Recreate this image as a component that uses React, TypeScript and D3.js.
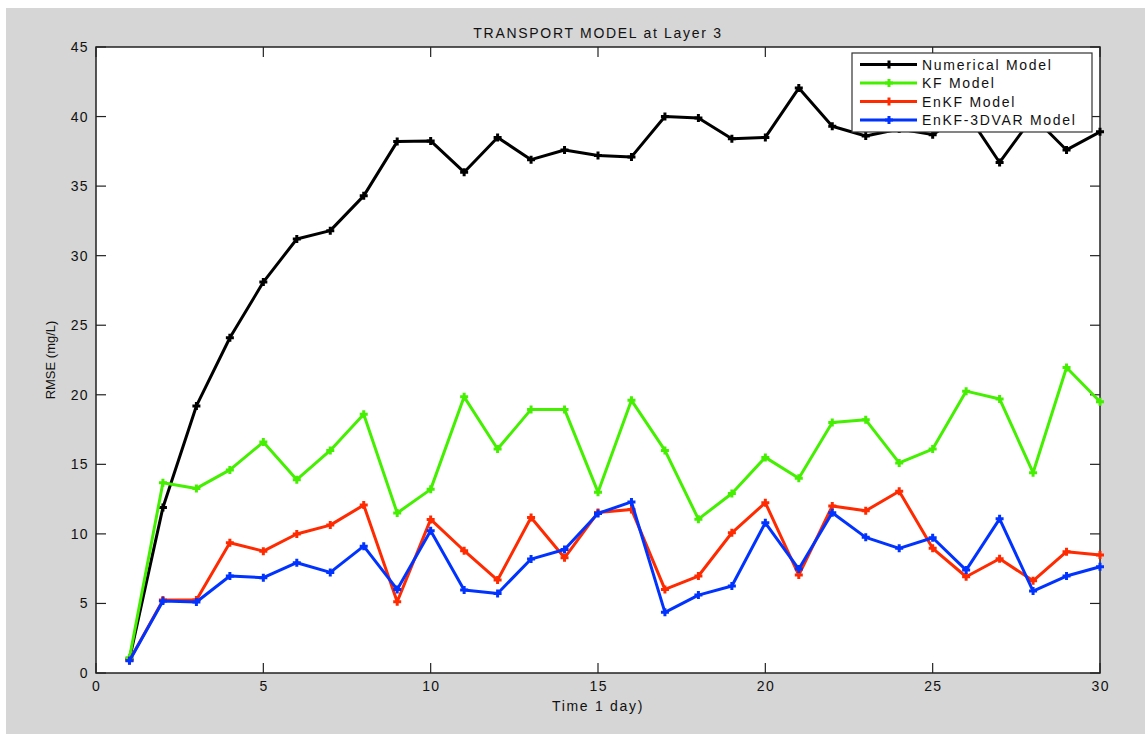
import React, { useEffect, useRef } from "react";
import * as d3 from "d3";

const days = d3.range(1, 31);
const numerical = [1.0, 11.9, 19.2, 24.1, 28.1, 31.2, 31.8, 34.3, 38.2, 38.25, 36.0, 38.5, 36.9, 37.6, 37.2, 37.1, 40.0, 39.9, 38.4, 38.5, 42.05, 39.3, 38.6, 39.1, 38.7, 40.3, 36.7, 40.0, 37.6, 38.9];
const kf = [1.1, 13.67, 13.27, 14.6, 16.6, 13.9, 16.0, 18.6, 11.5, 13.2, 19.85, 16.1, 18.95, 18.95, 13.0, 19.6, 16.0, 11.06, 12.9, 15.5, 14.0, 18.0, 18.2, 15.1, 16.1, 20.26, 19.7, 14.4, 21.96, 19.5];
const enkf = [0.9, 5.24, 5.24, 9.36, 8.76, 9.99, 10.63, 12.07, 5.12, 11.04, 8.79, 6.68, 11.18, 8.28, 11.54, 11.76, 6.01, 6.97, 10.08, 12.24, 7.04, 12.0, 11.66, 13.07, 8.96, 6.92, 8.21, 6.63, 8.72, 8.48];
const enkf3dvar = [0.88, 5.17, 5.1, 6.97, 6.85, 7.93, 7.23, 9.12, 6.01, 10.22, 5.96, 5.72, 8.19, 8.88, 11.47, 12.3, 4.36, 5.6, 6.25, 10.8, 7.47, 11.52, 9.75, 8.96, 9.72, 7.4, 11.08, 5.89, 6.97, 7.64];

const seriesNames = ["Numerical Model", "KF Model", "EnKF Model", "EnKF-3DVAR Model"];
const seriesColors = ["#000000", "#44f000", "#ff2a00", "#0033ff"];
const seriesValues = [numerical, kf, enkf, enkf3dvar];

const xTicks = [0, 5, 10, 15, 20, 25, 30];
const yTicks = [0, 5, 10, 15, 20, 25, 30, 35, 40, 45];

const title = "TRANSPORT MODEL at Layer 3";
const xLabel = "Time 1 day)";
const yLabel = "RMSE (mg/L)";

const W = 1145;
const H = 734;
const M = { left: 96, top: 47, right: 1100, bottom: 673 };
const FONT = "'Liberation Sans', Arial, sans-serif";
const LS = 1.7;

export default function App() {
  const ref = useRef<SVGSVGElement>(null);

  useEffect(() => {
    const svg = d3.select(ref.current);
    svg.selectAll("*").remove();

    svg.append("rect").attr("x", 0).attr("y", 0).attr("width", W).attr("height", H).attr("fill", "#ffffff");
    svg.append("rect").attr("x", 6).attr("y", 8).attr("width", W - 6).attr("height", H - 8).attr("fill", "#d6d6d6");

    const x = d3.scaleLinear().domain([0, 30]).range([M.left, M.right]);
    const y = d3.scaleLinear().domain([0, 45]).range([M.bottom, M.top]);

    svg.append("rect")
      .attr("x", M.left).attr("y", M.top)
      .attr("width", M.right - M.left).attr("height", M.bottom - M.top)
      .attr("fill", "#ffffff");

    const tickLen = 10;
    const axisColor = "#222";

    const gx = svg.append("g");
    xTicks.forEach((t) => {
      gx.append("line").attr("x1", x(t)).attr("x2", x(t)).attr("y1", M.bottom).attr("y2", M.bottom - tickLen).attr("stroke", axisColor).attr("stroke-width", 1.2);
      gx.append("line").attr("x1", x(t)).attr("x2", x(t)).attr("y1", M.top).attr("y2", M.top + tickLen).attr("stroke", axisColor).attr("stroke-width", 1.2);
      gx.append("text").attr("x", x(t) + 0.7).attr("y", M.bottom + 18).attr("text-anchor", "middle")
        .attr("font-family", FONT).attr("font-size", 14).attr("letter-spacing", 1.4).attr("fill", "#111").text(String(t));
    });
    const gy = svg.append("g");
    yTicks.forEach((t) => {
      gy.append("line").attr("x1", M.left).attr("x2", M.left + tickLen).attr("y1", y(t)).attr("y2", y(t)).attr("stroke", axisColor).attr("stroke-width", 1.2);
      gy.append("line").attr("x1", M.right).attr("x2", M.right - tickLen).attr("y1", y(t)).attr("y2", y(t)).attr("stroke", axisColor).attr("stroke-width", 1.2);
      gy.append("text").attr("x", M.left - 7).attr("y", y(t) + 5).attr("text-anchor", "end")
        .attr("font-family", FONT).attr("font-size", 14).attr("letter-spacing", 1.4).attr("fill", "#111").text(String(t));
    });

    svg.append("rect")
      .attr("x", M.left).attr("y", M.top)
      .attr("width", M.right - M.left).attr("height", M.bottom - M.top)
      .attr("fill", "none").attr("stroke", axisColor).attr("stroke-width", 1.5);

    const line = d3.line<number>().x((_, i) => x(days[i])).y((d) => y(d));

    const plus = (g: any, cx: number, cy: number, color: string) => {
      const s = 4;
      g.append("path")
        .attr("d", `M${cx - s},${cy}H${cx + s}M${cx},${cy - s}V${cy + s}`)
        .attr("stroke", color).attr("stroke-width", 3).attr("fill", "none");
    };

    seriesValues.forEach((vals, si) => {
      const g = svg.append("g");
      g.append("path").attr("d", line(vals)).attr("fill", "none")
        .attr("stroke", seriesColors[si]).attr("stroke-width", 3).attr("stroke-linejoin", "round");
      vals.forEach((v, i) => plus(g, x(days[i]), y(v), seriesColors[si]));
    });

    const lg = svg.append("g");
    lg.append("rect").attr("x", 852).attr("y", 53).attr("width", 240).attr("height", 79)
      .attr("fill", "#ffffff").attr("stroke", "#333").attr("stroke-width", 1.2);
    seriesNames.forEach((name, i) => {
      const ly = 64.5 + i * 18.5;
      lg.append("line").attr("x1", 860).attr("x2", 917).attr("y1", ly).attr("y2", ly)
        .attr("stroke", seriesColors[i]).attr("stroke-width", 3);
      plus(lg, 889, ly, seriesColors[i]);
      lg.append("text").attr("x", 922).attr("y", ly + 5).attr("font-family", FONT).attr("font-size", 14)
        .attr("letter-spacing", LS).attr("fill", "#111").text(name);
    });

    svg.append("text").attr("x", (M.left + M.right) / 2).attr("y", 38).attr("text-anchor", "middle")
      .attr("font-family", FONT).attr("font-size", 14).attr("letter-spacing", LS).attr("fill", "#111").text(title);
    svg.append("text").attr("x", (M.left + M.right) / 2).attr("y", 711).attr("text-anchor", "middle")
      .attr("font-family", FONT).attr("font-size", 14).attr("letter-spacing", LS).attr("fill", "#111").text(xLabel);
    svg.append("text").attr("transform", `translate(55,${(M.top + M.bottom) / 2}) rotate(-90)`)
      .attr("text-anchor", "middle").attr("font-family", FONT).attr("font-size", 13).attr("fill", "#111").text(yLabel);
  }, []);

  return (
    <svg ref={ref} width={W} height={H} style={{ position: "absolute", left: 0, top: 0, display: "block" }} />
  );
}
